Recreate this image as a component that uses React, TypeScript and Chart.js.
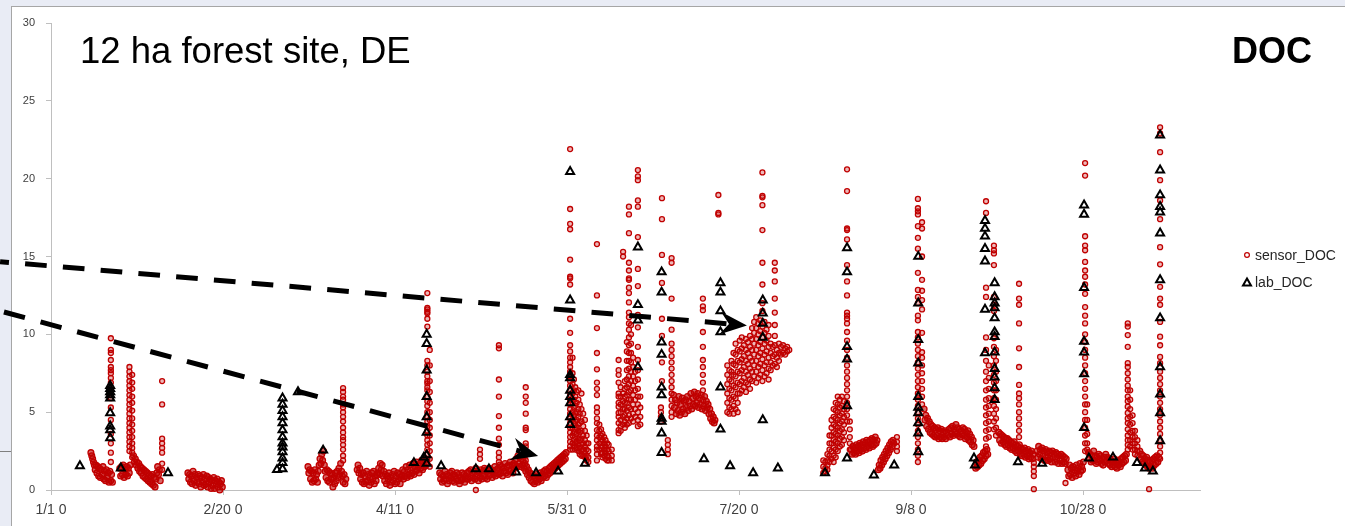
import React, { useEffect, useRef } from 'react';
import { Chart, registerables } from 'chart.js';

Chart.register(...registerables);

// ---- axis ticks ----
const xTickDays = [0, 50, 100, 150, 200, 250, 300];
const xTickLabels = ['1/1 0', '2/20 0', '4/11 0', '5/31 0', '7/20 0', '9/8 0', '10/28 0'];
const yTickValues = [0, 5, 10, 15, 20, 25, 30];
const X_MIN = 0;
const X_MAX = 334;
const Y_MIN = 0;
const Y_MAX = 30;

// ---- sensor_DOC : baseline stretches, sampled every BAND_STEP days ----
const BAND_STEP = 0.25;
const sensorBands: [number, number[]][] = [
  [11.6, [2.4, 2.2, 2.0, 1.8, 1.6, 1.3, 1.6, 1.1, 1.5, 0.9, 1.4, 0.8, 1.3, 1.0, 1.5, 0.7, 1.2, 0.6, 1.3, 0.8, 1.1, 0.5, 1.2, 0.6, 1.0, 0.5]],
  [20.0, [1.4, 0.9, 1.5, 1.0, 1.6, 0.8, 1.3, 1.0, 1.5, 0.9, 1.4, 1.1, 1.6]],
  [24.0, [2.2, 1.8, 2.0, 1.6, 1.8, 1.4, 1.7, 1.2, 1.5, 1.1, 1.4, 0.9, 1.3, 0.8, 1.2, 0.7, 1.1, 0.6, 1.0, 0.5, 0.9, 0.4, 1.0, 0.3, 0.8, 0.2, 0.7, 1.1, 1.5, 1.0, 1.3, 0.6]],
  [39.8, [1.1, 0.7, 1.0, 0.5, 0.9, 0.4, 1.2, 0.6, 1.0, 0.3, 0.8, 0.5, 1.0, 0.4, 0.9, 0.2, 0.8, 0.5, 1.0, 0.3, 0.7, 0.4, 0.9, 0.2, 0.8, 0.5, 0.7, 0.1, 0.6, 0.3, 0.8, 0.1, 0.6, 0.4, 0.7, 0.2, 0.5, 0.0, 0.4, 0.6, 0.2]],
  [74.7, [1.5, 1.1, 1.3, 0.7, 1.2, 0.5, 1.1, 0.6, 1.3, 0.7, 1.0, 0.5, 1.2,
    1.6, 2.0, 1.7, 2.3, 1.9, 2.5, 1.6, 1.2,
    0.8, 1.3, 0.6, 1.2, 0.5, 1.1, 0.7, 1.0, 0.2, 0.8, 0.4, 1.1,
    0.6, 1.2, 0.8, 1.4, 1.0, 1.7, 1.2, 0.9, 0.5, 1.0, 0.4, 0.7]],
  [89.0, [1.3, 1.6, 1.1, 1.4, 0.7, 1.0, 0.5, 1.1,
    0.4, 0.9, 0.5, 1.2, 0.6, 1.0, 0.3, 0.8, 0.5, 1.1, 0.7, 1.2, 0.4, 0.9, 0.6, 1.0,
    1.1, 1.4, 1.0, 1.7, 1.3, 1.6, 0.9, 1.2,
    0.6, 1.0, 0.4, 0.9, 0.7, 1.1, 0.3, 0.8, 0.5, 1.0, 0.6, 1.2, 0.4, 0.9, 0.5, 1.1, 0.7, 1.0, 0.4, 0.8,
    0.9, 1.3, 0.7, 1.2, 0.9, 1.5, 0.8, 1.3, 1.0, 1.6, 0.9, 1.4, 1.1, 1.7, 1.0, 1.5,
    1.2, 1.8, 1.3, 1.6, 1.1, 1.7, 1.4, 1.9, 1.3, 1.8, 1.5, 2.0, 1.6]],
  [113.0, [1.1, 0.7, 1.0, 0.5, 0.9, 0.6, 1.2, 0.7, 1.0, 0.4, 0.9, 0.6, 1.1, 0.8, 1.2, 0.6, 1.0, 0.5, 0.9, 0.7, 1.1, 0.6, 1.0, 0.4, 0.8, 0.6, 1.1, 0.7, 1.0, 0.5, 0.9, 0.7,
    1.1, 0.7, 1.2, 0.8, 1.3, 0.6, 1.1, 0.8, 1.2, 0.7, 1.4, 0.9, 1.2, 0.6, 1.1, 0.8, 1.3, 0.7, 1.2, 0.9, 1.4, 0.8, 1.3, 0.7, 1.2, 0.9, 1.4, 1.0, 1.3, 0.8, 1.2, 1.0, 1.5, 0.9, 1.3, 1.1,
    1.4, 1.0, 1.6, 1.1, 1.5, 0.9, 1.4, 1.2, 1.7, 1.1, 1.5, 1.0, 1.6, 1.2, 1.8, 1.3, 1.6, 1.1, 1.7, 1.4,
    1.6, 2.0, 1.5, 2.2, 1.7, 2.1, 1.5, 2.0, 1.6, 1.9, 1.4, 1.7, 1.2, 1.5, 1.0, 1.3,
    0.8, 1.1, 0.6, 1.0, 0.5, 0.9, 0.4, 0.8, 0.6, 1.0, 0.5, 0.9, 0.7, 1.1, 0.6, 1.0,
    0.8, 1.2, 0.9, 1.3, 0.8, 1.2, 1.0, 1.4, 1.1, 1.5, 1.2, 1.6, 1.3, 1.7, 1.4, 1.8, 1.5, 1.9, 1.6, 2.0, 1.7, 2.1, 1.8, 2.2, 1.9, 2.3, 2.0, 2.4]],
  [181.0, [6.1, 5.3, 5.8, 4.9, 5.6, 5.1, 6.0, 4.8, 5.5, 5.0, 5.9, 5.2, 5.7, 4.9, 5.8, 5.3, 6.0, 5.1, 5.7, 5.4, 6.2, 5.2, 5.9, 5.5, 6.3, 5.4, 6.0, 5.6, 6.2, 5.3, 5.9, 5.5, 6.1, 5.2, 5.8, 5.4, 6.0, 5.1, 5.7, 5.3, 5.5, 4.9, 5.2, 4.6, 4.9, 4.4, 4.7, 4.3, 4.5]],
  [232.6, [2.6, 2.3, 2.8, 2.4, 2.7, 2.3, 2.9, 2.5, 2.8, 2.4, 3.0, 2.6, 2.9, 2.5, 3.1, 2.7, 3.0, 2.6, 3.2, 2.8, 3.1, 2.7, 3.2, 2.9, 3.3, 2.8, 3.2, 2.9, 3.4, 3.0, 3.2]],
  [240.5, [1.3, 1.6, 1.4, 1.9, 1.6, 2.1, 1.8, 2.3, 2.0, 2.5, 2.2, 2.7, 2.4, 2.9, 2.6, 3.1, 2.8, 3.2, 3.0]],
  [253.8, [5.2, 4.5, 4.8, 4.1, 4.6, 3.9, 4.4, 3.7, 4.2, 3.6, 4.1, 3.5, 4.0, 3.4, 3.9, 3.5, 4.0, 3.3, 3.8, 3.4, 3.9, 3.3, 3.7, 3.4, 3.8, 3.3, 3.7]],
  [260.8, [3.5, 3.9, 3.4, 4.0, 3.6, 4.1, 3.5, 3.9, 3.7, 4.2, 3.6, 4.0, 3.5, 3.9, 3.4, 3.8, 3.6, 4.0, 3.5, 3.9, 3.3, 3.7, 3.4, 3.8, 3.2, 3.6, 3.1, 3.4, 2.9, 3.2, 2.8]],
  [268.8, [1.4, 1.8, 1.5, 1.9, 1.6, 2.1, 1.7, 2.2, 1.9, 2.4, 2.0, 2.5, 2.2, 2.6, 2.3]],
  [275.5, [3.7, 3.2, 3.6, 3.0, 3.5, 3.1, 3.4, 2.9, 3.3, 2.8, 3.3, 2.9, 3.2, 2.7, 3.1, 2.6, 3.0, 2.7, 3.1, 2.5, 2.9, 2.4, 2.8, 2.5, 2.9, 2.3, 2.7, 2.2, 2.6, 2.3, 2.7, 2.1, 2.5, 2.2, 2.6, 2.0, 2.4, 2.1, 2.5, 2.0, 2.3]],
  [286.6, [2.5, 2.1, 2.8, 2.3, 2.6, 2.0, 2.7, 2.2, 2.5, 1.9, 2.6, 2.1, 2.4, 1.9, 2.5, 2.0, 2.4, 1.8, 2.5, 2.1, 2.3, 1.8, 2.4, 2.0, 2.3, 1.7, 2.2, 1.9, 2.3, 1.7, 2.2, 1.8, 2.1, 1.7, 2.0]],
  [295.6, [1.3, 0.9, 1.6, 1.0, 1.4, 0.8, 1.5, 1.1, 1.3, 0.9, 1.6, 1.2, 1.4, 1.0, 1.7, 1.2, 1.5, 1.3, 1.8]],
  [301.6, [2.4, 2.0, 2.3, 1.8, 2.2, 1.9, 2.5, 1.9, 2.2, 1.7, 2.1, 1.8, 2.3, 1.9, 2.2, 1.7, 2.0, 1.6, 2.1, 1.8, 2.3, 1.9, 2.1, 1.7, 2.0, 1.6, 1.9, 1.5, 1.8, 1.6, 2.0, 1.5, 1.8, 1.4, 1.9, 1.6, 1.8, 1.5, 2.0, 1.7, 2.1, 1.8, 2.2, 1.9, 2.3]],
  [316.5, [2.5, 2.0, 2.3, 1.8, 2.2, 1.7, 2.0, 1.6, 2.1, 1.5, 1.9, 1.4, 1.8, 1.5, 1.9, 1.4, 2.0, 1.6, 2.1, 1.7, 2.2, 1.8, 2.1]],
];

// ---- sensor_DOC : storm events (day, readings) ----
const sensorColumns: [number, number[]][] = [
  [17.4, [9.75, 9.0, 8.8, 8.35, 7.9, 7.7, 7.5, 7.2, 6.9, 6.3, 6.1, 5.9, 5.3, 4.5, 3.6, 3.0, 2.4, 1.8]],
  [22.8, [7.9, 7.6, 7.3, 7.0, 6.7, 6.4, 6.1, 5.8, 5.5, 5.2, 4.9, 4.6, 4.3, 4.0, 3.7, 3.4, 3.1, 2.8, 2.5]],
  [23.6, [7.4, 6.9, 6.5, 6.0, 5.6, 5.1, 4.6, 4.2, 3.8, 3.4, 3.0, 2.7, 2.4, 2.1]],
  [32.3, [7.0, 5.5, 3.3, 3.0, 2.7, 2.4, 1.7, 1.3]],
  [84.9, [6.55, 6.3, 6.0, 5.8, 5.5, 5.3, 5.0, 4.7, 4.4, 4.0, 3.7, 3.4, 3.2, 2.9, 2.6, 2.2, 1.9]],
  [109.4, [12.65, 11.7, 11.6, 11.45, 11.35, 11.0, 10.5, 8.3, 8.0, 7.6, 7.3, 7.0, 6.85, 6.6, 6.4, 6.0, 5.7, 5.4, 5.0, 4.7, 4.4, 4.1, 3.8, 3.5, 3.2, 2.9, 2.6, 2.3, 2.0, 1.7]],
  [110.1, [9.0, 8.0, 7.0, 6.3, 5.6, 5.0, 4.5, 4.0, 3.5, 3.0, 2.5, 2.0, 1.5]],
  [123.5, [0.0]],
  [124.7, [2.6, 2.3, 2.0]],
  [130.2, [9.3, 9.1, 7.1, 6.0, 4.75, 4.0, 3.3, 2.9, 2.4, 2.1, 1.8]],
  [138.0, [6.6, 6.0, 5.6, 4.9, 4.0, 3.85, 3.0, 2.8, 2.25, 1.9]],
  [150.9, [21.9, 18.05, 17.1, 16.75, 14.8, 13.7, 13.6, 13.2, 11.0, 10.1, 9.3, 8.9, 8.5, 8.2, 7.9, 7.6, 7.3, 7.0, 6.7, 6.4, 6.1, 5.8, 5.5, 5.2, 4.9, 4.6, 4.3, 4.0, 3.7, 3.4, 3.1, 2.8, 2.6]],
  [151.6, [8.5, 7.5, 6.8, 6.2, 5.6, 5.0, 4.5, 4.0, 3.5, 3.0, 2.6]],
  [152.0, [7.1, 6.4, 5.8, 5.3, 4.8, 4.3, 3.7, 3.2, 2.8]],
  [152.4, [6.6, 6.0, 5.4, 4.9, 4.4, 3.9, 3.4, 3.0, 2.6]],
  [152.8, [6.3, 5.6, 5.0, 4.5, 4.0, 3.6, 3.1, 2.7]],
  [153.3, [6.4, 5.8, 5.2, 4.7, 4.2, 3.8, 3.3, 2.9, 2.5]],
  [153.7, [5.5, 4.9, 4.3, 3.7, 3.2, 2.7, 2.3]],
  [154.2, [6.2, 5.2, 4.4, 3.8, 3.3, 2.9, 2.5, 2.2]],
  [154.7, [4.9, 4.1, 3.5, 3.0, 2.6, 2.2]],
  [155.2, [4.5, 3.8, 3.2, 2.8, 2.4, 2.1]],
  [155.7, [3.5, 3.0, 2.6, 2.2, 1.9]],
  [156.2, [3.0, 2.5, 2.1, 1.8]],
  [158.7, [15.8, 12.5, 10.4, 8.8, 7.75, 6.9, 6.5, 6.1, 5.3, 5.0, 4.6, 4.3, 3.85, 3.5, 3.2, 2.8, 2.6, 2.3, 1.9]],
  [159.4, [4.2, 3.8, 3.4, 3.0, 2.6]],
  [159.9, [3.9, 3.5, 3.1, 2.7, 2.3]],
  [160.3, [3.6, 3.2, 2.8, 2.4, 2.1]],
  [160.8, [3.4, 3.0, 2.6, 2.2]],
  [161.2, [3.2, 2.8, 2.4, 2.0]],
  [161.7, [3.0, 2.6, 2.2, 1.9]],
  [162.1, [2.9, 2.5, 2.1, 1.9]],
  [163.0, [2.6, 2.2, 1.9]],
  [165.0, [8.35, 7.7, 7.4, 6.9, 6.2, 6.0, 5.6, 5.35, 4.95, 4.7, 4.3, 3.85, 3.65]],
  [165.6, [6.6, 6.0, 5.5, 5.0, 4.5, 4.1, 3.8]],
  [166.3, [15.3, 15.0, 6.2, 5.7, 5.2, 4.7, 4.2]],
  [166.8, [7.0, 6.5, 6.0, 5.6, 5.2, 4.8, 4.4, 4.0]],
  [167.4, [9.5, 8.9, 8.3, 7.7, 7.1, 6.6, 6.1, 5.6, 5.1, 4.6, 4.2]],
  [168.0, [18.2, 17.7, 16.5, 14.6, 14.1, 13.6, 13.5, 13.0, 12.65, 12.05, 11.4, 11.1, 10.7, 10.3, 9.8, 9.3, 8.8, 8.3, 7.8, 7.3, 6.8, 6.3, 5.8, 5.3, 4.8, 4.3]],
  [168.6, [10.6, 10.0, 9.4, 8.8, 8.2, 7.6, 7.0, 6.4, 5.8, 5.2, 4.6]],
  [169.2, [8.5, 7.9, 7.3, 6.7, 6.1, 5.5, 4.9, 4.4]],
  [169.8, [7.6, 7.0, 6.4, 5.8, 5.2, 4.7]],
  [170.6, [20.55, 20.15, 19.9, 18.6, 18.2, 16.25, 14.2, 13.1, 11.25, 10.45, 9.2, 8.35, 7.7, 7.1, 6.5, 6.0, 5.5, 5.0, 4.5, 4.1]],
  [171.3, [6.0, 5.3, 4.7, 4.2]],
  [177.3, [5.3, 5.0, 4.7, 4.4]],
  [177.6, [18.75, 17.4, 15.1, 13.3, 11.0, 9.9, 8.2, 7.0]],
  [179.3, [3.2, 2.9, 2.6, 2.3]],
  [180.4, [14.9, 14.6, 12.3, 10.3, 9.4, 9.0, 8.6, 8.2, 7.8, 7.4, 7.0, 6.6, 6.2, 5.8, 5.4, 5.0, 4.7]],
  [189.5, [12.3, 11.8, 11.55, 10.15, 9.2, 8.35, 7.9, 7.4, 6.9, 6.4]],
  [194.0, [18.95, 17.8, 17.7]],
  [196.6, [8.0, 7.4, 6.8, 6.2, 5.6, 5.0]],
  [197.2, [7.7, 7.1, 6.5, 5.9, 5.3, 4.9]],
  [197.8, [8.3, 7.6, 7.0, 6.4, 5.8, 5.2]],
  [198.4, [8.8, 8.1, 7.4, 6.7, 6.0, 5.4, 4.9]],
  [199.0, [9.4, 8.7, 8.0, 7.3, 6.6, 5.9, 5.2]],
  [199.6, [9.0, 8.3, 7.6, 6.9, 6.2, 5.6, 5.0]],
  [200.2, [9.6, 8.9, 8.2, 7.5, 6.8, 6.2]],
  [200.8, [9.8, 9.1, 8.4, 7.7, 7.0, 6.4]],
  [201.4, [9.3, 8.6, 7.9, 7.2, 6.6]],
  [202.0, [9.7, 9.0, 8.3, 7.6, 6.9, 6.3]],
  [202.6, [9.5, 8.8, 8.1, 7.4, 6.8]],
  [203.2, [9.9, 9.2, 8.5, 7.8, 7.1, 6.5]],
  [203.8, [10.4, 9.7, 9.0, 8.3, 7.6, 7.0]],
  [204.4, [10.8, 10.1, 9.4, 8.7, 8.0, 7.3]],
  [205.0, [11.1, 10.4, 9.7, 9.0, 8.3, 7.6, 6.9]],
  [205.6, [10.7, 10.0, 9.3, 8.6, 7.9, 7.2]],
  [206.2, [10.9, 10.2, 9.5, 8.8, 8.1, 7.4]],
  [206.8, [20.4, 18.9, 18.8, 18.3, 16.7, 14.6, 13.2, 12.0, 11.5, 10.5, 9.8, 9.1, 8.4, 7.7, 7.0]],
  [207.4, [10.8, 10.1, 9.4, 8.7, 8.0, 7.3]],
  [208.0, [10.3, 9.6, 8.9, 8.2, 7.5]],
  [208.6, [10.6, 9.9, 9.2, 8.5, 7.8, 7.1]],
  [209.2, [9.4, 8.8, 8.2, 7.7]],
  [209.8, [9.2, 8.6, 8.0]],
  [210.4, [14.6, 14.1, 13.4, 12.3, 11.4, 10.6, 9.9, 9.3, 8.7, 8.1]],
  [211.0, [9.0, 8.5, 7.9]],
  [211.6, [9.4, 8.8, 8.3]],
  [212.2, [9.2, 8.7]],
  [212.8, [9.3, 8.8]],
  [213.4, [9.1, 8.7]],
  [214.0, [9.2, 8.9]],
  [214.6, [9.0]],
  [224.5, [1.9, 1.5, 1.1]],
  [225.1, [1.8, 1.4, 1.2]],
  [225.7, [2.3, 1.9, 1.6, 1.3]],
  [226.3, [3.5, 3.0, 2.6, 2.2, 1.8]],
  [226.9, [4.5, 4.0, 3.5, 3.0, 2.5, 2.0]],
  [227.5, [5.2, 4.7, 4.2, 3.7, 3.2, 2.7, 2.2, 1.8]],
  [228.1, [5.6, 5.1, 4.6, 4.1, 3.6, 3.1, 2.6, 2.1]],
  [228.7, [6.0, 5.5, 5.0, 4.5, 4.0, 3.5, 3.0, 2.5]],
  [229.3, [5.8, 5.3, 4.8, 4.3, 3.8, 3.3, 2.8]],
  [229.9, [6.0, 5.4, 4.9, 4.4, 3.9, 3.4, 2.9]],
  [230.5, [5.7, 5.2, 4.7, 4.2, 3.7, 3.2]],
  [231.4, [20.6, 19.2, 16.8, 16.7, 16.1, 14.45, 13.4, 12.5, 11.4, 11.2, 11.0, 10.7, 10.15, 9.6, 9.0, 8.5, 8.0, 7.6, 7.2, 6.8, 6.4, 6.0, 5.6, 5.2, 4.8, 4.4]],
  [232.2, [4.4, 3.9, 3.4, 3.0, 2.6]],
  [245.9, [3.4, 3.1, 2.8, 2.5]],
  [252.0, [18.7, 18.1, 17.9, 17.7, 16.95, 16.2, 15.5, 13.95, 12.85, 12.4, 12.0, 11.2, 10.9, 10.15, 9.8, 9.4, 9.0, 8.6, 8.2, 7.8, 7.4, 7.0, 6.6, 6.2, 5.8, 5.4, 5.0, 4.6, 4.2, 3.8, 3.4, 3.0, 2.6, 2.2, 1.8]],
  [253.2, [17.2, 16.8, 15.0, 13.5, 12.8, 12.2, 11.6, 10.1, 8.85, 8.5, 8.0, 7.5, 7.0, 6.5, 6.0, 5.5]],
  [271.8, [18.55, 17.8, 13.0, 12.4, 9.8, 9.0, 8.3, 7.6, 7.0, 6.4, 5.8, 5.3, 4.8, 4.3, 3.8, 3.3, 2.8]],
  [272.6, [8.0, 7.2, 6.5, 5.9, 5.4, 4.9, 4.4, 3.9, 3.4]],
  [274.1, [15.7, 15.4, 15.2, 14.45, 12.4, 11.9, 11.5, 9.75, 9.2, 8.6, 8.0, 7.4, 6.9, 6.4, 5.9, 5.4, 4.9, 4.4, 3.9]],
  [274.7, [9.0, 8.3, 7.6, 7.0, 6.4, 5.8, 5.2, 4.6, 4.0, 3.5]],
  [281.4, [13.25, 12.3, 11.9, 10.7, 9.1, 7.9, 6.75, 6.2, 5.9, 5.5, 5.0, 4.6, 4.2, 3.8, 3.4]],
  [285.7, [1.75, 1.5, 1.2, 0.9, 0.05]],
  [294.9, [0.45]],
  [300.6, [21.0, 20.2, 16.3, 15.7, 15.4, 14.65, 14.1, 13.7, 13.2, 12.6, 11.75, 11.2, 10.7, 10.0, 9.5, 9.0, 8.5, 8.0, 7.5, 7.0, 6.5, 6.0, 5.5, 5.0, 4.5, 4.0, 3.5, 3.0, 2.5]],
  [301.2, [5.5, 4.5, 3.6, 3.0, 2.6]],
  [313.0, [10.7, 10.5, 9.95, 9.2, 8.15, 7.9, 7.5, 7.1, 6.7, 6.4, 6.0, 5.7, 5.35, 4.95, 4.6, 4.3, 3.9, 3.5, 3.2, 2.9, 2.6]],
  [313.7, [6.4, 5.8, 5.2, 4.7, 4.2, 3.7, 3.2, 2.8]],
  [314.4, [4.8, 4.3, 3.8, 3.4, 3.0, 2.6]],
  [315.1, [3.8, 3.4, 3.0, 2.6, 2.3]],
  [315.8, [3.2, 2.8, 2.5, 2.2]],
  [319.2, [0.05]],
  [322.4, [23.3, 22.9, 21.7, 19.9, 18.6, 17.4, 15.6, 14.5, 13.05, 12.3, 11.9, 10.8, 9.85, 9.3, 8.55, 8.15, 7.6, 7.2, 6.8, 6.4, 6.0, 5.6, 5.2, 4.8, 4.4, 4.0, 3.6, 3.2, 2.8, 2.4, 2.0]],
];

// ---- lab_DOC : grab samples (day, results) ----
const labColumns: [number, number[]][] = [
  [8.4, [1.55]],
  [17.2, [6.7, 6.5, 6.3, 6.1, 5.9, 4.95, 4.1, 3.85, 3.35]],
  [20.3, [1.4]],
  [34.0, [1.1]],
  [65.7, [1.3]],
  [67.3, [5.9, 5.5, 5.1, 4.7, 4.3, 3.85, 3.4, 3.0, 2.75, 2.45, 2.05, 1.75, 1.35]],
  [71.8, [6.3]],
  [79.1, [2.55]],
  [105.5, [1.75]],
  [108.4, [2.1]],
  [109.2, [10.0, 9.4, 7.7, 6.0, 4.7, 3.7, 2.25, 1.7]],
  [113.4, [1.55]],
  [123.5, [1.35]],
  [127.3, [1.35]],
  [135.2, [1.15]],
  [141.0, [1.1]],
  [147.4, [1.2]],
  [150.9, [20.45, 12.2, 7.4, 7.2, 6.4, 6.0, 5.6, 4.7, 4.2]],
  [155.2, [1.7]],
  [170.6, [15.6, 11.9, 10.9, 7.9]],
  [177.5, [14.0, 12.7, 9.5, 8.7, 6.6, 6.1, 4.6, 4.4, 3.65, 2.4]],
  [189.8, [2.0]],
  [194.6, [13.3, 12.7, 11.5, 10.15, 6.6, 3.9]],
  [197.4, [1.55]],
  [204.1, [1.1]],
  [206.9, [12.2, 11.35, 10.7, 9.8, 4.5]],
  [211.3, [1.4]],
  [225.0, [1.1]],
  [231.4, [15.55, 14.0, 9.2, 8.4, 5.4, 2.05]],
  [239.2, [0.95]],
  [245.1, [1.6]],
  [252.1, [15.0, 12.0, 9.65, 8.15, 6.0, 5.3, 4.95, 4.3, 3.65, 2.45]],
  [268.3, [2.05]],
  [268.6, [1.6]],
  [271.5, [17.3, 16.8, 16.3, 15.5, 14.7, 11.6, 8.8]],
  [274.3, [13.3, 12.4, 12.0, 11.7, 11.05, 10.15, 9.85, 8.85, 7.8, 7.25, 6.55, 5.8]],
  [281.1, [1.8]],
  [288.1, [1.7]],
  [300.3, [18.3, 17.7, 13.0, 9.55, 8.85, 7.45, 4.0]],
  [301.7, [2.05]],
  [308.7, [2.1]],
  [315.7, [1.75]],
  [318.0, [1.4]],
  [320.3, [1.2]],
  [322.4, [22.8, 20.55, 18.95, 18.2, 17.85, 16.5, 13.5, 11.05, 7.9, 6.15, 4.95, 3.15]],
];

// ---- annotation arrows (data units: day, DOC) ----
const arrowFrom: [number, number][] = [[-14.8, 14.67], [-14.8, 11.5]];
const arrowTo: [number, number][] = [[202.3, 10.57], [141.6, 2.18]];

const FONT = "'Liberation Sans', Arial, sans-serif";
const SENSOR_COLOR = '#C00000';

const arrowPlugin = {
  id: 'dashedArrows',
  afterDraw(chart: any) {
    const { ctx, scales } = chart;
    const xs = scales.x;
    const ys = scales.y;
    const offsets = [12.8, 33.9];
    arrowFrom.forEach((from, i) => {
      const to = arrowTo[i];
      const x0 = xs.getPixelForValue(from[0]);
      const y0 = ys.getPixelForValue(from[1]);
      const x1 = xs.getPixelForValue(to[0]);
      const y1 = ys.getPixelForValue(to[1]);
      const len = Math.hypot(x1 - x0, y1 - y0);
      const ux = (x1 - x0) / len;
      const uy = (y1 - y0) / len;
      const px = -uy;
      const py = ux;
      const L = 27;
      const W = 11.5;
      const notch = 9;
      ctx.save();
      ctx.strokeStyle = '#000';
      ctx.fillStyle = '#000';
      ctx.lineWidth = 5;
      ctx.lineCap = 'butt';
      ctx.setLineDash([21.7, 16.2]);
      ctx.lineDashOffset = offsets[i];
      ctx.beginPath();
      ctx.moveTo(x0, y0);
      ctx.lineTo(x1 - ux * (L - notch), y1 - uy * (L - notch));
      ctx.stroke();
      ctx.setLineDash([]);
      ctx.beginPath();
      ctx.moveTo(x1, y1);
      ctx.lineTo(x1 - ux * L + px * W, y1 - uy * L + py * W);
      ctx.lineTo(x1 - ux * (L - notch), y1 - uy * (L - notch));
      ctx.lineTo(x1 - ux * L - px * W, y1 - uy * L - py * W);
      ctx.closePath();
      ctx.fill();
      ctx.restore();
    });
  },
};

export default function App() {
  const canvasRef = useRef<HTMLCanvasElement>(null);

  useEffect(() => {
    const sensorBase: { x: number; y: number }[] = [];
    sensorBands.forEach(([start, vals]) =>
      vals.forEach((v, j) => sensorBase.push({ x: start + j * BAND_STEP, y: v }))
    );
    const sensorEvents: { x: number; y: number }[] = [];
    sensorColumns.forEach(([d, vals]) => vals.forEach((v) => sensorEvents.push({ x: d, y: v })));
    const lab: { x: number; y: number }[] = [];
    labColumns.forEach(([d, vals]) => vals.forEach((v) => lab.push({ x: d, y: v })));

    const chart = new Chart(canvasRef.current as HTMLCanvasElement, {
      type: 'scatter',
      data: {
        datasets: [
          {
            label: 'lab_DOC',
            data: lab,
            order: 0,
            pointStyle: 'triangle',
            pointRadius: 4.6,
            pointBorderWidth: 2,
            borderColor: '#000000',
            backgroundColor: 'rgba(255,255,255,0)',
            clip: false,
          } as any,
          {
            label: 'sensor_DOC',
            data: sensorEvents,
            order: 1,
            pointStyle: 'circle',
            pointRadius: 2.5,
            pointBorderWidth: 1.3,
            borderColor: SENSOR_COLOR,
            backgroundColor: 'rgba(192,0,0,0.28)',
            clip: false,
          } as any,
          {
            label: 'sensor_DOC',
            data: sensorBase,
            order: 2,
            pointStyle: 'circle',
            pointRadius: 2.9,
            pointBorderWidth: 1.3,
            borderColor: SENSOR_COLOR,
            backgroundColor: 'rgba(192,0,0,0.6)',
            clip: false,
          } as any,
        ],
      },
      options: {
        animation: false,
        responsive: false,
        devicePixelRatio: 1,
        events: [],
        layout: { padding: { left: 0, right: 145, top: 23, bottom: 0 } },
        plugins: {
          legend: { display: false },
          tooltip: { enabled: false },
          title: { display: false },
        },
        scales: {
          x: {
            type: 'linear',
            min: X_MIN,
            max: X_MAX,
            afterBuildTicks: (scale: any) => {
              scale.ticks = xTickDays.map((v) => ({ value: v }));
            },
            afterFit: (scale: any) => {
              scale.height = 36;
            },
            ticks: {
              autoSkip: false,
              maxRotation: 0,
              padding: 7,
              color: '#404040',
              font: { family: FONT, size: 14 },
              callback: (value: any) => {
                const i = xTickDays.indexOf(Number(value));
                return i >= 0 ? xTickLabels[i] : '';
              },
            },
            grid: { drawOnChartArea: false, drawTicks: true, tickLength: 5, color: '#bfbfbf' },
            border: { display: true, color: '#bfbfbf', width: 1 },
          },
          y: {
            type: 'linear',
            min: Y_MIN,
            max: Y_MAX,
            afterBuildTicks: (scale: any) => {
              scale.ticks = yTickValues.map((v) => ({ value: v }));
            },
            afterFit: (scale: any) => {
              scale.width = 51;
            },
            ticks: {
              padding: 11,
              color: '#404040',
              font: { family: FONT, size: 11 },
            },
            grid: { drawOnChartArea: false, drawTicks: true, tickLength: 5, color: '#bfbfbf' },
            border: { display: true, color: '#bfbfbf', width: 1 },
          },
        },
      } as any,
      plugins: [arrowPlugin],
    });
    return () => chart.destroy();
  }, []);

  return (
    <div
      style={{
        position: 'absolute',
        left: 0,
        top: 0,
        width: 1345,
        height: 526,
        overflow: 'hidden',
        background: '#e9ecf5',
        fontFamily: FONT,
      }}
    >
      <div
        style={{
          position: 'absolute',
          left: 11,
          top: 6,
          right: 0,
          bottom: 0,
          background: '#ffffff',
          borderLeft: '1px solid #a6a6a6',
          borderTop: '1px solid #a6a6a6',
        }}
      />
      <div style={{ position: 'absolute', left: 0, top: 451, width: 11, height: 1, background: '#7f7f7f' }} />
      <canvas
        ref={canvasRef}
        width={1345}
        height={526}
        style={{ position: 'absolute', left: 0, top: 0, width: 1345, height: 526 }}
      />
      <div
        style={{
          position: 'absolute',
          left: 80,
          top: 33,
          fontSize: 36.5,
          lineHeight: '36px',
          color: '#000',
          whiteSpace: 'nowrap',
        }}
      >
        12 ha forest site, DE
      </div>
      <div
        style={{
          position: 'absolute',
          left: 1232,
          top: 33,
          fontSize: 36,
          lineHeight: '36px',
          fontWeight: 'bold',
          color: '#000',
        }}
      >
        DOC
      </div>
      <svg style={{ position: 'absolute', left: 1240, top: 248 }} width={14} height={42}>
        <circle cx={7} cy={7} r={2.4} fill="none" stroke={SENSOR_COLOR} strokeWidth={1.2} />
        <polygon points="7,30.5 11,37.5 3,37.5" fill="none" stroke="#000" strokeWidth={2} strokeLinejoin="miter" />
      </svg>
      <div
        style={{
          position: 'absolute',
          left: 1255,
          top: 247,
          fontSize: 14,
          lineHeight: '16px',
          color: '#262626',
          whiteSpace: 'nowrap',
        }}
      >
        sensor_DOC
      </div>
      <div
        style={{
          position: 'absolute',
          left: 1255,
          top: 274,
          fontSize: 14,
          lineHeight: '16px',
          color: '#262626',
          whiteSpace: 'nowrap',
        }}
      >
        lab_DOC
      </div>
    </div>
  );
}
